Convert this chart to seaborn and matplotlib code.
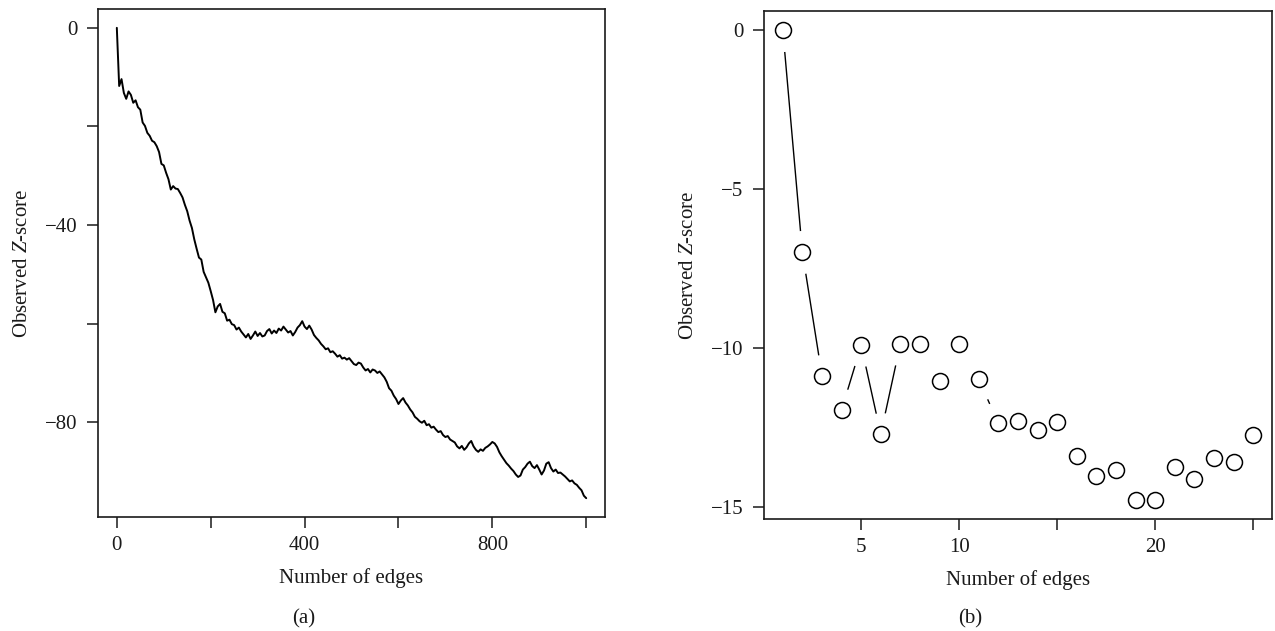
import matplotlib

matplotlib.use("Agg")
import matplotlib.pyplot as plt
import numpy as np
import pandas as pd
import seaborn as sns

# (a) observed Z-score after each added edge, read every 5 edges
edges_a = np.arange(0, 1001, 5)
zscore_a = [
    0.0, -11.8, -10.4, -13.2, -14.4, -12.9, -13.6, -15.2, -14.7, -16.1,
    -16.6, -19.2, -19.9, -21.3, -21.9, -22.9, -23.2, -24.0, -25.2, -27.6,
    -27.9, -29.4, -30.7, -32.8, -32.1, -32.6, -32.7, -33.5, -34.4, -35.9,
    -37.2, -39.1, -40.6, -42.9, -44.8, -46.6, -47.0, -49.5, -50.6, -51.7,
    -53.4, -55.2, -57.7, -56.5, -56.0, -57.6, -57.9, -59.4, -59.2, -60.1,
    -60.3, -61.2, -60.8, -61.6, -62.2, -62.8, -62.1, -63.1, -62.4, -61.6,
    -62.5, -61.9, -62.6, -62.4, -61.5, -61.1, -62.0, -61.4, -61.9, -61.0,
    -61.4, -60.6, -61.2, -61.8, -61.5, -62.4, -61.7, -60.8, -60.3, -59.5,
    -60.6, -61.1, -60.4, -61.2, -62.3, -62.9, -63.4, -64.1, -64.6, -65.2,
    -65.0, -65.8, -65.6, -66.1, -66.7, -66.4, -67.1, -66.9, -67.3, -67.0,
    -67.6, -68.2, -68.4, -67.9, -68.1, -68.9, -69.5, -69.2, -69.9, -69.3,
    -69.5, -70.0, -69.7, -70.3, -70.9, -71.8, -73.1, -73.6, -74.6, -75.3,
    -76.3, -75.6, -75.1, -76.0, -76.6, -77.4, -78.0, -78.9, -79.3, -79.8,
    -80.1, -79.7, -80.6, -80.4, -81.1, -80.9, -81.5, -82.0, -81.8, -82.6,
    -83.0, -82.8, -83.5, -83.8, -84.1, -84.9, -85.3, -84.8, -85.6, -85.1,
    -84.3, -83.8, -84.9, -85.6, -86.0, -85.5, -85.8, -85.2, -84.9, -84.5,
    -84.0, -84.3, -85.0, -86.1, -86.9, -87.6, -88.3, -88.8, -89.4, -89.9,
    -90.6, -91.1, -90.8, -89.6, -89.1, -88.4, -88.0, -88.9, -89.3, -88.7,
    -89.6, -90.6, -89.8, -88.4, -88.1, -89.3, -90.0, -89.6, -90.3, -90.2,
    -90.6, -91.0, -91.5, -92.0, -91.8, -92.4, -92.7, -93.3, -93.8, -94.9,
    -95.4,
]

# (b) observed Z-score for the first 25 edges
edges_b = list(range(1, 26))
zscore_b = [
    0.0, -7.0, -10.88, -11.96, -9.93, -12.72, -9.88, -9.9, -11.05, -9.9,
    -11.0, -12.38, -12.32, -12.6, -12.33, -13.4, -14.04, -13.84, -14.8, -14.79,
    -13.75, -14.13, -13.48, -13.6, -12.74,
]

xticks_a = [0, 200, 400, 600, 800, 1000]
xticklabels_a = ["0", "", "400", "", "800", ""]
yticks_a = [0, -20, -40, -60, -80]
yticklabels_a = ["0", "", "\u221240", "", "\u221280"]

xticks_b = [5, 10, 15, 20, 25]
xticklabels_b = ["5", "10", "", "20", ""]
yticks_b = [0, -5, -10, -15]
yticklabels_b = ["0", "\u22125", "\u221210", "\u221215"]

INK = "#1a1a1a"
FS = 15


def r_limits(values, pad=0.04):
    lo, hi = min(values), max(values)
    span = hi - lo
    return lo - pad * span, hi + pad * span


def style_axes(ax, xticks, xlabels, yticks, ylabels):
    for side in ["top", "right", "bottom", "left"]:
        ax.spines[side].set_visible(True)
        ax.spines[side].set_color(INK)
        ax.spines[side].set_linewidth(1.2)
    ax.set_xticks(xticks)
    ax.set_xticklabels(xlabels)
    ax.set_yticks(yticks)
    ax.set_yticklabels(ylabels)
    ax.tick_params(axis="both", direction="out", length=8, width=1.1,
                   color=INK, labelcolor=INK, labelsize=FS)
    ax.tick_params(axis="x", pad=6)
    ax.tick_params(axis="y", pad=7)
    ax.set_xlabel("Number of edges", fontsize=FS, color=INK, labelpad=9)
    ax.set_ylabel("Observed $Z$-score", fontsize=FS, color=INK, labelpad=9)
    ax.grid(False)


def main() -> None:
    sns.set_theme(style="ticks")
    plt.rcParams["font.family"] = ["Liberation Serif", "DejaVu Serif"]
    plt.rcParams["mathtext.fontset"] = "custom"
    plt.rcParams["mathtext.rm"] = "Liberation Serif"
    plt.rcParams["mathtext.it"] = "Liberation Serif:italic"

    df_a = pd.DataFrame({"edges": edges_a, "z": zscore_a})
    df_b = pd.DataFrame({"edges": edges_b, "z": zscore_b})

    fig = plt.figure(figsize=(12.75, 6.31), dpi=100)
    ax_a = fig.add_axes([0.0769, 0.1807, 0.3976, 0.805])
    ax_b = fig.add_axes([0.5992, 0.1775, 0.3984, 0.805])

    # (a) long trajectory
    sns.lineplot(data=df_a, x="edges", y="z", ax=ax_a, color="black",
                 linewidth=1.4, estimator=None, sort=False)
    ax_a.set_xlim(*r_limits(edges_a))
    ax_a.set_ylim(*r_limits(zscore_a))
    style_axes(ax_a, xticks_a, xticklabels_a, yticks_a, yticklabels_a)

    # (b) points joined by lines with gaps round each point (R type="b")
    sns.lineplot(data=df_b, x="edges", y="z", ax=ax_b, color="black",
                 linewidth=1.0, estimator=None, sort=False, zorder=1)
    sns.scatterplot(data=df_b, x="edges", y="z", ax=ax_b, s=31 ** 2,
                    color="white", linewidth=0, zorder=2)
    sns.scatterplot(data=df_b, x="edges", y="z", ax=ax_b, s=11.5 ** 2,
                    facecolor="white", edgecolor="black", linewidth=1.1,
                    zorder=3)
    ax_b.set_xlim(*r_limits(edges_b))
    ax_b.set_ylim(*r_limits(zscore_b))
    style_axes(ax_b, xticks_b, xticklabels_b, yticks_b, yticklabels_b)

    fig.text(0.2385, 0.019, "(a)", ha="center", va="center",
             fontsize=FS, color=INK)
    fig.text(0.7608, 0.019, "(b)", ha="center", va="center",
             fontsize=FS, color=INK)

    fig.savefig("out.png", dpi=100)
    plt.close(fig)


if __name__ == "__main__":
    main()
